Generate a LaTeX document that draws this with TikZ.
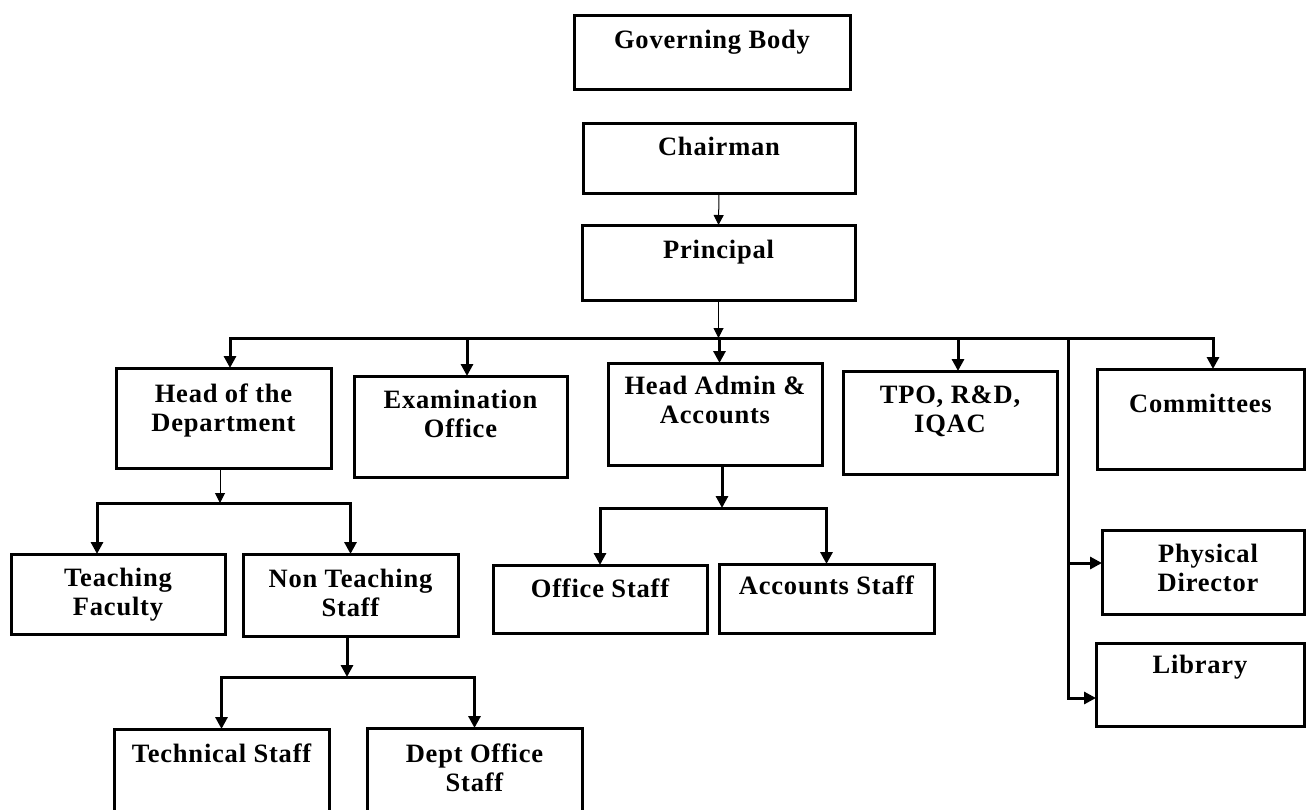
\documentclass[tikz,border=0pt]{standalone}
\usepackage{fontspec}
\setmainfont{Liberation Serif}[LetterSpace=3]
\usetikzlibrary{arrows.meta}
\begin{document}
\begin{tikzpicture}[x=1pt,y=-1pt,
  box/.style={draw, line width=3pt, anchor=north west, inner sep=0pt, outer sep=0pt},
  lbl/.style={anchor=north, inner sep=0pt, align=center, font=\fontsize{26.5}{29}\selectfont\bfseries},
  thinarr/.style={line width=1pt, -{Triangle[length=10pt,width=10pt]}},
  thickarr/.style={line width=3pt, -{Triangle[length=12pt,width=12pt]}}]
\useasboundingbox (0,0) rectangle (1306,809);
\fill[white] (0,0) rectangle (1306,809);
\clip (0,0) rectangle (1306,809);

% boxes
\node[box, minimum width=276pt, minimum height=74pt] (gb) at (574,15) {};
\node[box, minimum width=272pt, minimum height=70pt] (ch) at (583,123) {};
\node[box, minimum width=273pt, minimum height=75pt] (pr) at (582,225) {};
\node[box, minimum width=215pt, minimum height=100pt] (hod) at (116,368) {};
\node[box, minimum width=213pt, minimum height=101pt] (ex) at (354,376) {};
\node[box, minimum width=214pt, minimum height=102pt] (ha) at (608,363) {};
\node[box, minimum width=214pt, minimum height=103pt] (tpo) at (843,371) {};
\node[box, minimum width=207pt, minimum height=100pt] (com) at (1097,369) {};
\node[box, minimum width=202pt, minimum height=84pt] (pd) at (1102,530) {};
\node[box, minimum width=208pt, minimum height=83pt] (lib) at (1096,643) {};
\node[box, minimum width=214pt, minimum height=80pt] (tf) at (11,554) {};
\node[box, minimum width=215pt, minimum height=82pt] (nt) at (243,554) {};
\node[box, minimum width=214pt, minimum height=68pt] (os) at (493,565) {};
\node[box, minimum width=215pt, minimum height=69pt] (as) at (719,564) {};
\node[box, minimum width=215pt, minimum height=100pt] (ts) at (114,729) {};
\node[box, minimum width=215pt, minimum height=100pt] (do) at (367,728) {};

% labels
\node[lbl] (gb-t) at ([yshift=-12.7pt]gb.north) {\strut Governing Body};
\node[lbl] (ch-t) at ([yshift=-11.7pt]ch.north) {\strut Chairman};
\node[lbl] (pr-t) at ([yshift=-12.7pt]pr.north) {\strut Principal};
\node[lbl] (hod-t) at ([yshift=-13.7pt]hod.north) {\strut Head of the\\Department};
\node[lbl] (ex-t) at ([yshift=-11.7pt]ex.north) {\strut Examination\\Office};
\node[lbl] (ha-t) at ([yshift=-10.7pt]ha.north) {\strut Head Admin \&\\Accounts};
\node[lbl] (tpo-t) at ([yshift=-11.7pt]tpo.north) {\strut TPO, R\&D,\\IQAC};
\node[lbl] (com-t) at ([yshift=-22.7pt]com.north) {\strut Committees};
\node[lbl] (pd-t) at ([xshift=5pt,yshift=-11.7pt]pd.north) {\strut Physical\\Director};
\node[lbl] (lib-t) at ([yshift=-9.7pt]lib.north) {\strut Library};
\node[lbl] (tf-t) at ([yshift=-11.7pt]tf.north) {\strut Teaching\\Faculty};
\node[lbl] (nt-t) at ([yshift=-12.7pt]nt.north) {\strut Non Teaching\\Staff};
\node[lbl] (os-t) at ([yshift=-11.7pt]os.north) {\strut Office Staff};
\node[lbl] (as-t) at ([yshift=-9.7pt]as.north) {\strut Accounts Staff};
\node[lbl] (ts-t) at ([yshift=-12.7pt]ts.north) {\strut Technical Staff};
\node[lbl] (do-t) at ([yshift=-13.7pt]do.north) {\strut Dept Office\\Staff};

% coordinates
\coordinate (pb) at (719,338);
\coordinate (vx) at (1068,338);
\coordinate (hodin) at ([xshift=6.5pt]hod.north);
\coordinate (exin) at ([xshift=6.5pt]ex.north);
\coordinate (hain) at ([xshift=4.5pt]ha.north);
\coordinate (tpoin) at ([xshift=8pt]tpo.north);
\coordinate (comin) at ([xshift=12.5pt]com.north);
\coordinate (pdin) at ([yshift=9pt]pd.west);
\coordinate (libin) at ([yshift=-13.5pt]lib.west);
\coordinate (hodout) at ([xshift=-3.5pt]hod.south);
\coordinate (hb) at (220,503);
\coordinate (tfin) at ([xshift=-21pt]tf.north);
\coordinate (ntout) at ([xshift=-3.5pt]nt.south);
\coordinate (nb) at (347,677);
\coordinate (haout) at ([xshift=7pt]ha.south);
\coordinate (hab) at (722,508);

% connectors
\draw[thinarr] (ch.south) -- (pr.north);
\draw[thinarr] (pr.south) -- (pr.south |- pb);
\draw[thickarr] (pb) -| (hodin);
\draw[thickarr] (pb) -| (exin);
\draw[thickarr] (pb -| hain) -- (hain);
\draw[thickarr] (pb) -| (tpoin);
\draw[thickarr] (pb) -| (comin);
\draw[thickarr] (pb) -- (vx) |- (pdin);
\draw[thickarr] (pb) -- (vx) |- (libin);

\draw[thinarr] (hodout) -- (hodout |- hb);
\draw[thickarr] (hb) -| (tfin);
\draw[thickarr] (hb) -| (nt.north);

\draw[thickarr] (ntout) -- (ntout |- nb);
\draw[thickarr] (nb) -| (ts.north);
\draw[thickarr] (nb) -| (do.north);

\draw[thickarr] (haout) -- (haout |- hab);
\draw[thickarr] (hab) -| (os.north);
\draw[thickarr] (hab) -| (as.north);
\end{tikzpicture}
\end{document}
